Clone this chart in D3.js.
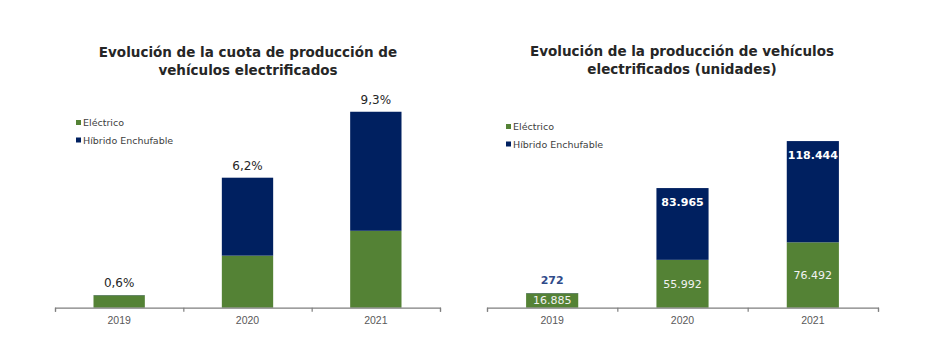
<!DOCTYPE html>
<html>
<head>
<meta charset="utf-8">
<script src="https://cdn.jsdelivr.net/npm/d3@7"></script>
<style>
  body { margin: 0; background: #fff; }
  svg { font-family: "DejaVu Sans", sans-serif; }
</style>
</head>
<body>
<svg width="945" height="351"></svg>
<script>
// ---- Datos
const years = ['2019', '2020', '2021'];
const seriesNames = ['Eléctrico', 'Híbrido Enchufable'];
const seriesColors = ['#548235', '#002060'];

// cuota de producción (%)
const shareElectric = [0.59, 2.47, 3.65];
const sharePhev = [0.01, 3.70, 5.65];
const shareLabels = ['0,6%', '6,2%', '9,3%'];

// producción (unidades)
const unitsElectric = [16885, 55992, 76492];
const unitsPhev = [272, 83965, 118444];
const unitsElectricLabels = ['16.885', '55.992', '76.492'];
const unitsPhevLabels = ['272', '83.965', '118.444'];

const svg = d3.select('svg');

function drawChart(cfg) {
    const g = svg.append('g')
        .attr('transform', `translate(${cfg.left}, ${cfg.top})`);

    const rows = years.map((y, i) => ({ year: y, e: cfg.elec[i], p: cfg.phev[i], i }));
    const stack = d3.stack().keys(['e', 'p'])(rows);

    const mapX = d3.scaleBand()
        .domain(years)
        .range([0, cfg.width])
        .paddingInner(0.6)
        .paddingOuter(0.3);

    const mapY = d3.scaleLinear()
        .domain([0, cfg.maxY])
        .range([cfg.height, 0]);

    // ---- Barras
    g.selectAll('.serie')
        .data(stack)
        .enter()
        .append('g')
        .attr('fill', (d, k) => seriesColors[k])
        .selectAll('rect')
        .data(d => d)
        .enter()
        .append('rect')
        .attr('x', d => mapX(d.data.year))
        .attr('y', d => mapY(d[1]))
        .attr('width', mapX.bandwidth())
        .attr('height', d => mapY(d[0]) - mapY(d[1]));

    // ---- Eje X
    const eixoX = d3.axisBottom(mapX).tickSize(0).tickPadding(9);
    const gx = g.append('g')
        .attr('transform', `translate(0, ${cfg.height})`)
        .call(eixoX);
    gx.select('.domain').remove();
    gx.selectAll('text')
        .attr('fill', '#595959')
        .style('font-size', '10.5px');

    const edge = d3.scaleLinear().domain([0, years.length]).range([0, cfg.width]);
    const eixoBordas = d3.axisBottom(edge).ticks(years.length).tickFormat('').tickSize(4).tickSizeOuter(4);
    const gb = g.append('g')
        .attr('transform', `translate(0, ${cfg.height})`)
        .call(eixoBordas);
    gb.selectAll('.domain, line').attr('stroke', '#7f7f7f').attr('stroke-width', 1.2);

    // ---- Etiquetas
    cfg.labels(g, rows, mapX, mapY);

    // ---- Título
    const t = svg.append('text')
        .attr('x', cfg.titleX)
        .attr('y', cfg.titleY)
        .attr('text-anchor', 'middle')
        .attr('fill', '#262626')
        .style('font-size', '13.5px')
        .style('font-weight', 'bold');
    cfg.title.forEach((line, k) => {
        t.append('tspan').attr('x', cfg.titleX).attr('dy', k === 0 ? 0 : 17.5).text(line);
    });

    // ---- Leyenda
    const lg = svg.append('g')
        .attr('transform', `translate(${cfg.legendX}, ${cfg.legendY})`);
    seriesNames.forEach((name, k) => {
        lg.append('rect')
            .attr('x', 0).attr('y', k * 17.5 - 3)
            .attr('width', 5).attr('height', 5)
            .attr('fill', seriesColors[k]);
        lg.append('text')
            .attr('x', 7).attr('y', k * 17.5)
            .attr('dy', '0.35em')
            .attr('fill', '#404040')
            .style('font-size', '9.5px')
            .text(name);
    });
}

drawChart({
    left: 55, top: 97, width: 385, height: 210.7, maxY: 10,
    elec: shareElectric, phev: sharePhev,
    title: ['Evolución de la cuota de producción de', 'vehículos electrificados'],
    titleX: 248, titleY: 57,
    legendX: 76, legendY: 123,
    labels: (g, rows, mapX, mapY) => {
        g.selectAll('.total')
            .data(rows)
            .enter()
            .append('text')
            .attr('x', d => mapX(d.year) + mapX.bandwidth() / 2)
            .attr('y', d => mapY(d.e + d.p) - 12)
            .attr('dy', '0.35em')
            .attr('text-anchor', 'middle')
            .attr('fill', '#262626')
            .style('font-size', '12px')
            .text(d => shareLabels[d.i]);
    }
});

drawChart({
    left: 487, top: 97, width: 391, height: 210.7, maxY: 246500,
    elec: unitsElectric, phev: unitsPhev,
    title: ['Evolución de la producción de vehículos', 'electrificados (unidades)'],
    titleX: 682, titleY: 56,
    legendX: 506, legendY: 127,
    labels: (g, rows, mapX, mapY) => {
        const cx = d => mapX(d.year) + mapX.bandwidth() / 2;
        g.selectAll('.lab-e')
            .data(rows)
            .enter()
            .append('text')
            .attr('x', cx)
            .attr('y', d => (mapY(0) + mapY(d.e)) / 2)
            .attr('dy', '0.35em')
            .attr('text-anchor', 'middle')
            .attr('fill', '#f2f2f2')
            .style('font-size', '11px')
            .text(d => unitsElectricLabels[d.i]);
        g.selectAll('.lab-p')
            .data(rows)
            .enter()
            .append('text')
            .attr('x', cx)
            .attr('y', d => d.p < 5000 ? mapY(d.e + d.p) - 13 : mapY(d.e + d.p) + 14)
            .attr('dy', '0.35em')
            .attr('text-anchor', 'middle')
            .attr('fill', d => d.p < 5000 ? '#2f4b8a' : '#ffffff')
            .style('font-size', '11px')
            .style('font-weight', 'bold')
            .text(d => unitsPhevLabels[d.i]);
    }
});
</script>
</body>
</html>
